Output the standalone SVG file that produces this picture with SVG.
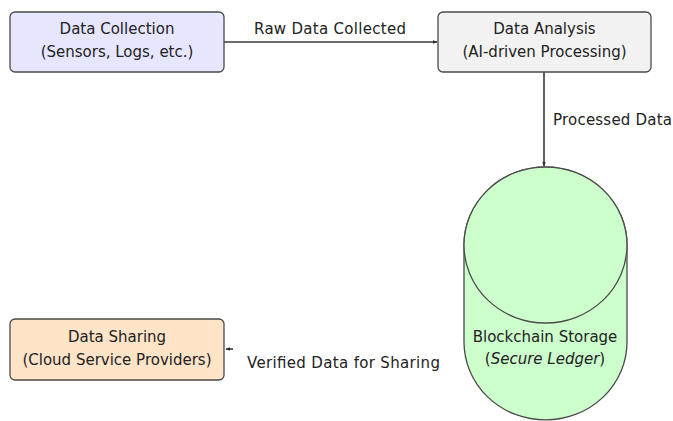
<svg xmlns="http://www.w3.org/2000/svg" width="673" height="421" viewBox="0 0 673 421">
  <style>
    .box { stroke: #4a4a4a; stroke-width: 1.3; }
    .t { font-family: "DejaVu Sans", "Liberation Sans", sans-serif; font-size: 15px; fill: #222; text-anchor: middle; }
    .lbl { font-family: "DejaVu Sans", "Liberation Sans", sans-serif; font-size: 15px; fill: #222; }
    .edge { stroke: #3a3a3a; stroke-width: 1.6; fill: none; }
  </style>
  <defs>
    <marker id="arr" viewBox="0 0 8 8" refX="7" refY="4" markerWidth="5" markerHeight="5" orient="auto-start-reverse" markerUnits="userSpaceOnUse">
      <path d="M0,1 L8,4 L0,7 Z" fill="#333"/>
    </marker>
  </defs>
  <rect width="673" height="421" fill="#fff"/>

  <g id="connectors">
    <path class="edge" d="M224,42 L437,42" marker-end="url(#arr)"/>
    <text class="lbl" x="254" y="34" textLength="152">Raw Data Collected</text>
    <path class="edge" d="M544,72 L544,166" stroke="#555" marker-end="url(#arr)"/>
    <text class="lbl" x="553" y="125" textLength="119">Processed Data</text>
    <path class="edge" d="M233,349 L226,349" marker-end="url(#arr)"/>
    <text class="lbl" x="247" y="368" textLength="193">Verified Data for Sharing</text>
  </g>

  <g id="data-collection">
    <rect class="box" x="10" y="12" width="214" height="60" rx="5" fill="#e6e6ff"/>
    <text class="t" x="117" y="34">Data Collection</text>
    <text class="t" x="117" y="57">(Sensors, Logs, etc.)</text>
  </g>

  <g id="data-analysis">
    <rect class="box" x="438" y="12" width="213" height="60" rx="5" fill="#f2f2f2"/>
    <text class="t" x="544.5" y="34">Data Analysis</text>
    <text class="t" x="544.5" y="57">(AI-driven Processing)</text>
  </g>

  <g id="blockchain-storage">
    <path class="box" d="M464,245 L464,342 A81.5,78 0 0 0 627,342 L627,245 A81.5,78 0 0 0 464,245 Z" fill="#ccffcc"/>
    <ellipse class="box" cx="545.5" cy="245" rx="81.5" ry="78" fill="#ccffcc"/>
    <text class="t" x="545" y="342">Blockchain Storage</text>
    <text class="t" x="545" y="364">(<tspan font-style="italic">Secure Ledger</tspan>)</text>
  </g>

  <g id="data-sharing">
    <rect class="box" x="10" y="319" width="214" height="61" rx="5" fill="#ffe4c8"/>
    <text class="t" x="117" y="342">Data Sharing</text>
    <text class="t" x="117" y="365">(Cloud Service Providers)</text>
  </g>
</svg>
